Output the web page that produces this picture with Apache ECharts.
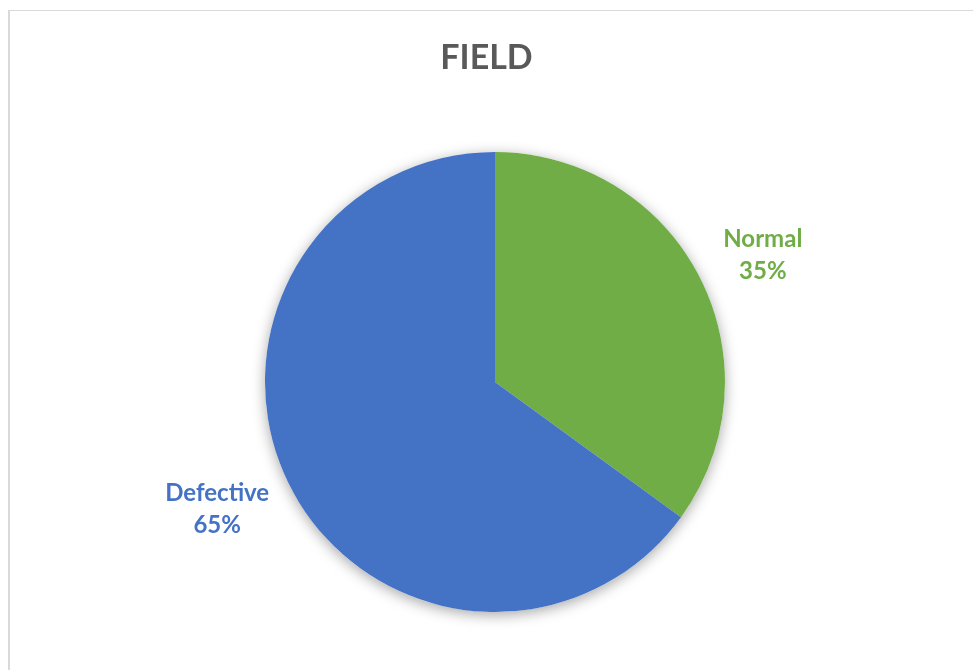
<!DOCTYPE html>
<html>
<head>
<meta charset="utf-8">
<style>
  html, body { margin: 0; padding: 0; background: #ffffff; overflow: hidden; }
  #frame {
    position: absolute; left: 8px; top: 10px; width: 1100px; height: 800px;
    border-left: 2px solid #d9d9d9; border-top: 1px solid #d9d9d9;
  }
  #chart { position: absolute; left: 0; top: 0; width: 973px; height: 670px; }
</style>
<script src="https://cdn.jsdelivr.net/npm/echarts@6/dist/echarts.min.js"></script>
</head>
<body>
<div id="frame"></div>
<div id="chart"></div>
<script>
// Share of field units by condition
const chartTitle = 'FIELD';
const categories = ['Normal', 'Defective'];
const shares = [35, 65];
const sliceColors = ['#70AD47', '#4472C4'];

const chart = echarts.init(document.getElementById('chart'), null, { renderer: 'canvas' });

const pieCenter = [495, 382];
const pieRadius = 230;
const total = shares.reduce((a, b) => a + b, 0);

const sliceData = categories.map((name, i) => ({
  name: name,
  value: shares[i],
  itemStyle: { color: sliceColors[i] }
}));

// same values, only carrying the label colour
const labelData = categories.map((name, i) => ({
  name: name,
  value: shares[i],
  label: { color: sliceColors[i] }
}));

chart.setOption({
  animation: false,
  backgroundColor: 'transparent',
  title: {
    text: chartTitle,
    left: 'center',
    top: 36,
    padding: [5, 5, 5, 18],
    textStyle: { fontFamily: 'Lato', fontWeight: 'bold', fontSize: 34, color: '#595959' }
  },
  series: [
    {
      // soft drop shadow beneath the whole disc
      type: 'pie',
      silent: true,
      center: pieCenter,
      radius: pieRadius,
      startAngle: 90,
      label: { show: false },
      labelLine: { show: false },
      itemStyle: {
        color: '#ffffff',
        shadowBlur: 14,
        shadowColor: 'rgba(0,0,0,0.35)',
        shadowOffsetY: 3
      },
      data: [{ name: 'all', value: total }]
    },
    {
      type: 'pie',
      center: pieCenter,
      radius: pieRadius,
      startAngle: 90,
      clockwise: true,
      label: { show: false },
      labelLine: { show: false },
      itemStyle: { borderWidth: 0 },
      data: sliceData
    },
    {
      // transparent wider ring used only to place the category labels
      type: 'pie',
      silent: true,
      center: [490, 382],
      radius: [0, 596],
      startAngle: 88,
      clockwise: true,
      itemStyle: { color: 'rgba(0,0,0,0)', borderWidth: 0 },
      labelLine: { show: false },
      label: {
        show: true,
        position: 'inside',
        fontFamily: 'Lato',
        fontWeight: 'bold',
        fontSize: 24,
        lineHeight: 32,
        align: 'center',
        formatter: p => p.name + '\n' + p.value + '%'
      },
      data: labelData
    }
  ]
});
</script>
</body>
</html>
